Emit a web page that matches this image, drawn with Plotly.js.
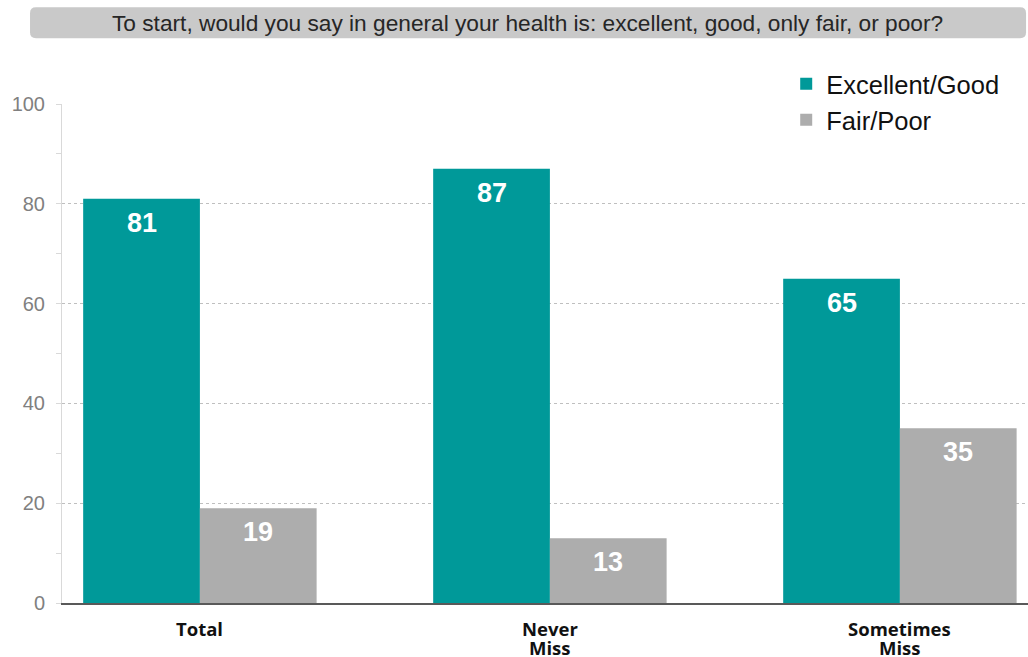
<!DOCTYPE html>
<html><head><meta charset="utf-8">
<script src="https://cdn.plot.ly/plotly-3.0.1.min.js"></script>
<style>html,body{margin:0;padding:0;background:#fff}#chart{width:1028px;height:657px}</style>
</head><body><div id="chart"></div>
<script>
const categories = ["Total", "Never<br>Miss", "Sometimes<br>Miss"];
const seriesNames = ["Excellent/Good", "Fair/Poor"];
const excellentGood = [81, 87, 65];
const fairPoor = [19, 13, 35];
const yTicks = [0, 20, 40, 60, 80, 100];
const chartTitle = "To start, would you say in general your health is: excellent, good, only fair, or poor?";

const colors = ["#009999", "#ADADAD"];
const series = [excellentGood, fairPoor];

const traces = series.map((vals, i) => ({
  type: "bar",
  name: seriesNames[i],
  x: categories,
  y: vals,
  marker: {color: colors[i], line: {width: 0}},
  hoverinfo: "none"
}));

const annotations = [];
series.forEach((vals, si) => {
  vals.forEach((v, ci) => {
    annotations.push({
      x: categories[ci], y: v, xref: "x", yref: "y",
      text: "<b>" + v + "</b>", showarrow: false,
      xshift: si === 0 ? -58 : 58, yshift: -24,
      font: {family: "Liberation Sans, Arial", size: 27, color: "#ffffff"}
    });
  });
});
// category labels, one annotation per line for tight line spacing
categories.forEach((c) => {
  c.split("<br>").forEach((line, li) => {
    annotations.push({
      x: c, xref: "x", yref: "paper", y: li === 0 ? -0.0521 : -0.0882,
      xanchor: "center", yanchor: "middle", showarrow: false,
      text: "<b>" + line + "</b>",
      font: {family: "Open Sans, Arial", size: 18.5, color: "#111111"}
    });
  });
});
annotations.push({
  xref: "paper", yref: "paper", x: 0.4824, y: 1.163, xanchor: "center", yanchor: "middle",
  text: chartTitle, showarrow: false,
  font: {family: "Liberation Sans, Arial", size: 22.7, color: "#262626"}
});

const layout = {
  width: 1028, height: 657,
  margin: {l: 62, r: 0, t: 104, b: 54, pad: 0},
  paper_bgcolor: "#ffffff", plot_bgcolor: "#ffffff",
  barmode: "group", bargap: 0.333, bargroupgap: 0,
  showlegend: true,
  legend: {x: 0.7497, y: 1.087, xanchor: "left", yanchor: "top", bgcolor: "rgba(0,0,0,0)",
    font: {family: "Liberation Sans, Arial", size: 25.5, color: "#111111"}, tracegroupgap: 0, itemwidth: 30},
  xaxis: {
    range: [-0.394, 2.366], showgrid: false, zeroline: false,
    showline: true, linecolor: "#595959", linewidth: 1.5,
    ticks: "", showticklabels: false,
    fixedrange: true
  },
  yaxis: {
    range: [0, 100], tickvals: yTicks, ticktext: yTicks.map(String),
    showgrid: true, gridcolor: "#bfbfbf", griddash: "dot", gridwidth: 1,
    zeroline: false, showline: true, linecolor: "#d9d9d9", linewidth: 1,
    ticks: "outside", ticklen: 5, tickcolor: "#d9d9d9",
    minor: {dtick: 10, ticks: "outside", ticklen: 5, tickcolor: "#d9d9d9", showgrid: false},
    tickfont: {family: "Liberation Sans, Arial", size: 20, color: "#808080"},
    ticklabelstandoff: 7, fixedrange: true
  },
  shapes: [{
    type: "path", xref: "paper", yref: "paper", layer: "below",
    path: "M -0.0269 1.194 L 0.9918 1.194 Q 0.998 1.194 0.998 1.182 L 0.998 1.144 Q 0.998 1.132 0.9918 1.132 L -0.0269 1.132 Q -0.0331 1.132 -0.0331 1.144 L -0.0331 1.182 Q -0.0331 1.194 -0.0269 1.194 Z",
    fillcolor: "#c9c9c9", line: {width: 0}
  }],
  annotations: annotations
};
Plotly.newPlot("chart", traces, layout, {displayModeBar: false, staticPlot: true});
</script></body></html>
